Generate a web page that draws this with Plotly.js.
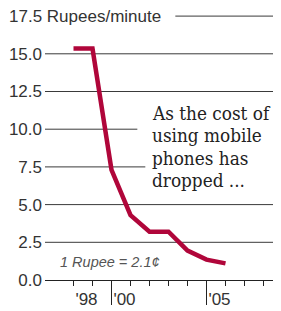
<!DOCTYPE html>
<html>
<head>
<meta charset="utf-8">
<script src="https://cdn.plot.ly/plotly-3.0.1.min.js"></script>
<style>
  html, body { margin: 0; padding: 0; background: #fff; }
  #chart { width: 281px; height: 311px; }
</style>
</head>
<body>
<div id="chart"></div>
<script>
// Data (cost of mobile calls, Rupees per minute)
const years = [1998, 1999, 2000, 2001, 2002, 2003, 2004, 2005, 2006];
const rupeesPerMinute = [15.35, 15.35, 7.3, 4.3, 3.2, 3.2, 1.95, 1.35, 1.1];

// Axis ticks and labels
const yTickVals = [0, 2.5, 5, 7.5, 10, 12.5, 15];
const yTickText = ['0.0', '2.5', '5.0', '7.5', '10.0', '12.5', '15.0'];
const topTickVal = 17.5;
const topTickText = '17.5 Rupees/minute';
const xTickVals = [1998, 1999, 2000, 2001, 2002, 2003, 2004, 2005, 2006, 2007, 2008];
const xTickText = ["'98", '', "'00", '', '', '', '', "'05", '', '', ''];
const xMajorTicks = [2000, 2005];

const noteLines = ['As the cost of', 'using mobile', 'phones has', 'dropped ...'];
const rateText = '1 Rupee = 2.1¢';

const lineColor = '#B0063A';
const gridColor = '#3a3a3a';
const textColor = '#333333';
const xRange = [1996.5, 2008.5];
const yRange = [0, 18.17];

// Gridlines (some are shortened where the note sits, as in the original)
const gridSpec = [
  {y: 2.5,  x0: xRange[0], x1: xRange[1]},
  {y: 5,    x0: xRange[0], x1: xRange[1]},
  {y: 7.5,  x0: xRange[0], x1: 2001.78},
  {y: 10,   x0: xRange[0], x1: 2001.36},
  {y: 12.5, x0: xRange[0], x1: xRange[1]},
  {y: 15,   x0: xRange[0], x1: xRange[1]},
  {y: topTickVal, x0: 2003.36, x1: xRange[1]}
];
const shapes = gridSpec.map(g => ({
  type: 'line', xref: 'x', yref: 'y',
  x0: g.x0, x1: g.x1, y0: g.y, y1: g.y,
  line: {color: gridColor, width: 1},
  layer: 'below'
}));

const trace = {
  x: years,
  y: rupeesPerMinute,
  type: 'scatter',
  mode: 'lines',
  line: {color: lineColor, width: 4.5},
  cliponaxis: false,
  hoverinfo: 'skip',
  showlegend: false
};

// note lines placed one by one to get the tight leading of the original
const noteY = [11.01, 9.55, 8.09, 6.63];
const noteAnnotations = noteLines.map((t, i) => ({
  xref: 'x', yref: 'y',
  x: 2002.1, y: noteY[i],
  xanchor: 'left', yanchor: 'middle',
  align: 'left',
  borderpad: 0,
  text: t,
  showarrow: false,
  font: {family: '"DejaVu Serif Condensed", "DejaVu Serif", serif', size: 18.8, color: '#222222'}
}));

const layout = {
  width: 281,
  height: 311,
  margin: {l: 45, r: 8, t: 6, b: 31, pad: 0},
  paper_bgcolor: '#ffffff',
  plot_bgcolor: '#ffffff',
  font: {family: '"Liberation Sans", Arial, sans-serif', size: 17, color: textColor},
  showlegend: false,
  xaxis: {
    range: xRange,
    fixedrange: true,
    showgrid: false,
    zeroline: false,
    showline: true,
    linecolor: '#222222',
    linewidth: 1,
    ticks: 'outside',
    ticklen: 5,
    tickwidth: 1,
    tickcolor: '#222222',
    tickmode: 'array',
    tickvals: xTickVals,
    ticktext: xTickText,
    ticklabelshift: 13,
    ticklabelstandoff: -1,
    tickfont: {family: '"Liberation Sans", Arial, sans-serif', size: 17, color: textColor}
  },
  xaxis2: {
    range: xRange,
    overlaying: 'x',
    anchor: 'y',
    side: 'bottom',
    fixedrange: true,
    showgrid: false,
    zeroline: false,
    showline: false,
    ticks: 'outside',
    ticklen: 24,
    tickwidth: 1,
    tickcolor: '#222222',
    tickmode: 'array',
    tickvals: xMajorTicks,
    showticklabels: false
  },
  yaxis: {
    range: yRange,
    fixedrange: true,
    showgrid: false,
    zeroline: false,
    showline: false,
    ticks: '',
    tickmode: 'array',
    tickvals: yTickVals,
    ticktext: yTickText,
    ticklabelstandoff: 2,
    tickfont: {family: '"Liberation Sans", Arial, sans-serif', size: 17, color: textColor}
  },
  shapes: shapes,
  annotations: [
    {
      xref: 'paper', yref: 'y',
      x: -0.167, y: topTickVal,
      xanchor: 'left', yanchor: 'middle',
      text: topTickText,
      showarrow: false,
      font: {family: '"Liberation Sans", Arial, sans-serif', size: 17, color: textColor}
    },
    ...noteAnnotations,
    {
      xref: 'x', yref: 'y',
      x: 1997.2, y: 1.22,
      xanchor: 'left', yanchor: 'middle',
      text: '<i>' + rateText + '</i>',
      showarrow: false,
      font: {family: '"Liberation Sans", Arial, sans-serif', size: 14.5, color: '#555555'}
    }
  ]
};

// dummy trace to activate xaxis2
const axisTrace = {x: [xRange[0]], y: [null], xaxis: 'x2', yaxis: 'y', type: 'scatter', mode: 'lines', hoverinfo: 'skip', showlegend: false};

Plotly.newPlot('chart', [trace, axisTrace], layout, {staticPlot: true, displayModeBar: false});
</script>
</body>
</html>
